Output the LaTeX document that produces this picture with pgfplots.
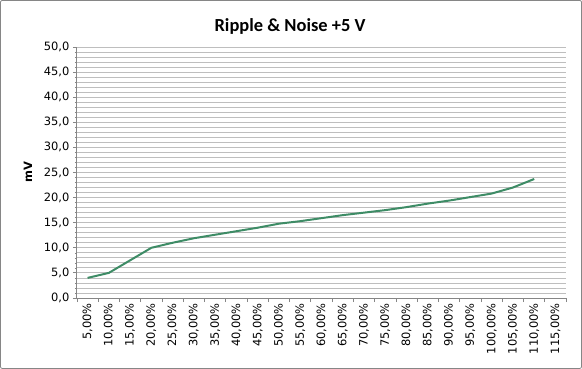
\documentclass[border=0pt]{standalone}
\usepackage{pgfplots}
\pgfplotsset{compat=1.18}
\usepackage{fontspec}
\setmainfont{DejaVu Sans}
\newfontfamily\titlefont{Carlito}
\definecolor{linegreen}{HTML}{3E8C66}
\definecolor{gridgray}{HTML}{BEBEBE}
\definecolor{axisgray}{HTML}{868686}
\begin{document}
\begin{tikzpicture}[x=1bp,y=1bp]
\draw[axisgray, line width=0.8bp, rounded corners=2bp] (0.5,0.5) rectangle (581.5,368.5);
\node[font=\titlefont\bfseries\fontsize{18.5}{20}\selectfont] at (290,342) {Ripple \& Noise +5 V};
\begin{axis}[
  at={(77bp,71bp)}, anchor=south west,
  scale only axis, width=489bp, height=251bp,
  xmin=0.5, xmax=23.5, ymin=0, ymax=50,
  xtick={1,...,23},
  xticklabels={{5,00\%},{10,00\%},{15,00\%},{20,00\%},{25,00\%},{30,00\%},{35,00\%},{40,00\%},{45,00\%},{50,00\%},{55,00\%},{60,00\%},{65,00\%},{70,00\%},{75,00\%},{80,00\%},{85,00\%},{90,00\%},{95,00\%},{100,00\%},{105,00\%},{110,00\%},{115,00\%}},
  minor xtick={0.5,1.5,...,23.5},
  x tick label style={rotate=90, anchor=east, font=\fontsize{11.5}{13}\selectfont, inner sep=1bp},
  xtick style={draw=none},
  minor x tick style={draw=axisgray, line width=0.8bp},
  ytick={0,5,...,50},
  minor y tick num=4,
  y tick label style={font=\fontsize{11.5}{13}\selectfont},
  yticklabel style={/pgf/number format/.cd, fixed, fixed zerofill, precision=1, use comma, assume math mode=true},
  tick align=outside,
  major tick length=4bp, minor tick length=4bp,
  y tick style={draw=axisgray, line width=0.8bp},
  minor y tick style={draw=axisgray, line width=0.6bp, /pgfplots/minor tick length=2bp},
  ymajorgrids, yminorgrids,
  major grid style={draw=gridgray, line width=0.8bp},
  minor grid style={draw=gridgray, line width=0.8bp},
  axis x line*=bottom, axis y line*=left,
  axis line style={draw=axisgray, line width=1bp, -},
  ylabel={\bfseries mV},
  ylabel style={font=\fontsize{11.5}{13}\selectfont, at={(axis description cs:-0.1,0.5)}, anchor=center},
]
\addplot[linegreen, line width=2bp, no markers] coordinates {
(1,4.0) (2,5.0) (3,7.5) (4,10.0) (5,11.0) (6,11.9) (7,12.6) (8,13.3) (9,14.0) (10,14.8)
(11,15.3) (12,15.9) (13,16.5) (14,17.0) (15,17.5) (16,18.1) (17,18.8) (18,19.4) (19,20.1)
(20,20.8) (21,22.0) (22,23.7)
};
\end{axis}
\end{tikzpicture}
\end{document}
